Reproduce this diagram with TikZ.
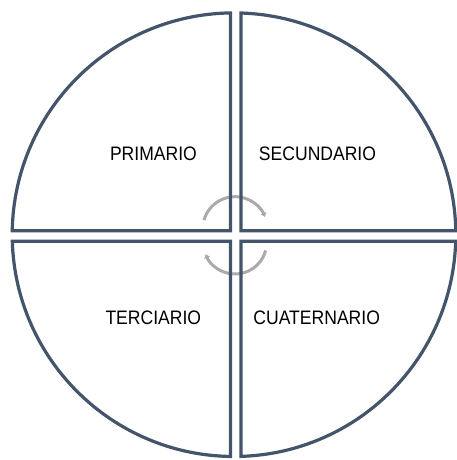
\documentclass[tikz,border=0pt]{standalone}
\usepackage{fontspec}
\setmainfont{Liberation Sans}[FakeStretch=0.9]
\usetikzlibrary{arrows.meta}
\definecolor{sectc}{HTML}{44546A}
\definecolor{arrc}{HTML}{AAAAAA}
\begin{document}
\begin{tikzpicture}[x=1pt,y=1pt,
  sector/.style={draw=sectc,line width=3.2pt,line join=miter},
  cyc/.style={draw=arrc,line width=3pt,-{Stealth[length=4pt,width=6pt,inset=0.5pt]}},
  lbl/.style={font=\fontsize{19.5}{22}\selectfont,text=black,inner sep=0pt}]
\fill[white] (0,0) rectangle (457,460);
\useasboundingbox (0,0) rectangle (457,460);
\coordinate (C) at (234,225.3);
\def\R{221.8}
% cycle arrows
\coordinate (ta) at (235,231);
\coordinate (ba) at (235,217.7);
\draw[cyc] ([shift={(164:32.3)}]ta) arc[start angle=164,end angle=22,radius=32.3];
\draw[cyc] ([shift={(-15:31.7)}]ba) arc[start angle=-15,end angle=-158,radius=31.7];
% sectors
\coordinate (tl) at (230.5,229.2);
\coordinate (tr) at (240.9,229.2);
\coordinate (bl) at (230.5,218.8);
\coordinate (br) at (240.9,218.8);
\draw[sector] (tl) -- ([shift={(90.9:\R)}]C) arc[start angle=90.9,end angle=179.0,radius=\R] -- cycle;
\draw[sector] (tr) -- ([shift={(88.2:\R)}]C) arc[start angle=88.2,end angle=1.0,radius=\R] -- cycle;
\draw[sector] (bl) -- ([shift={(181.7:\R)}]C) arc[start angle=181.7,end angle=269.1,radius=\R] -- cycle;
\draw[sector] (br) -- ([shift={(271.8:\R)}]C) arc[start angle=271.8,end angle=358.3,radius=\R] -- cycle;
% labels
\node[lbl] (p1) at (153.4,306.3) {PRIMARIO};
\node[lbl] (p2) at (317.5,306.3) {SECUNDARIO};
\node[lbl] (p3) at (153.3,142) {TERCIARIO};
\node[lbl] (p4) at (316.7,142) {CUATERNARIO};
\end{tikzpicture}
\end{document}
